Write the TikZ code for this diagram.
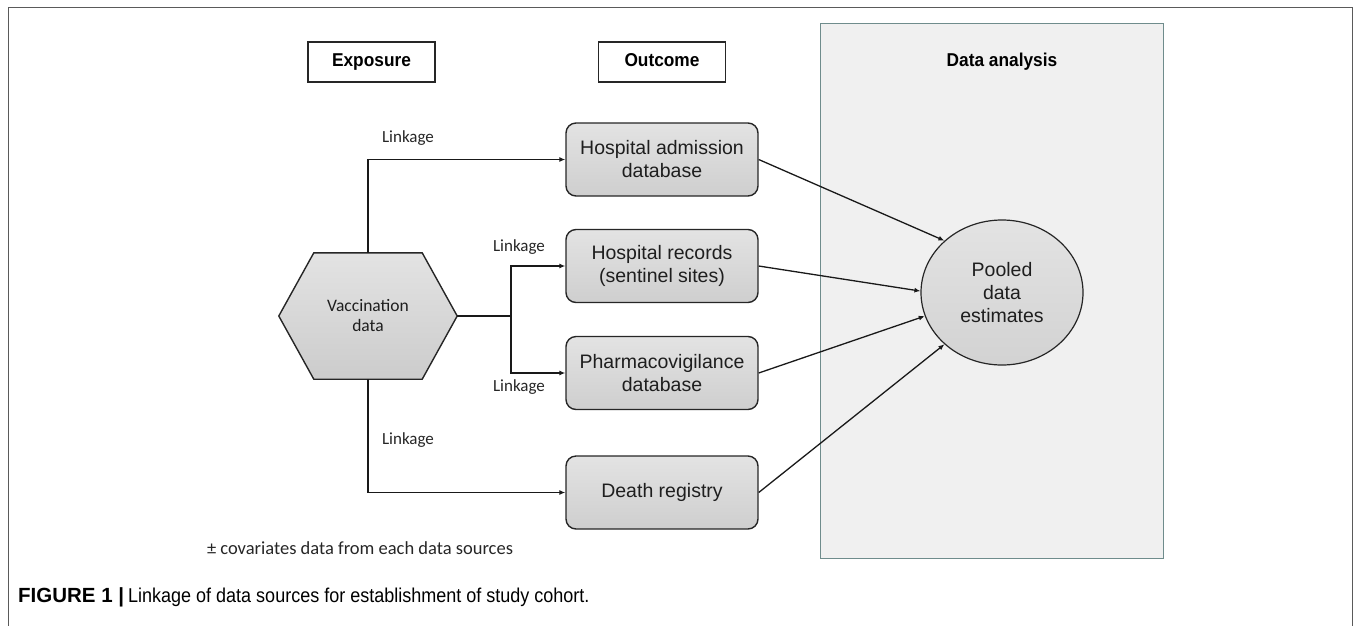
\documentclass[tikz,border=0pt]{standalone}
\usepackage{fontspec}
\usetikzlibrary{arrows.meta,shapes.geometric}
\setmainfont{Liberation Sans}
\newfontfamily\boxfont{Liberation Sans}
\newfontfamily\headfont[FakeStretch=0.93]{Liberation Sans}
\newfontfamily\calfont{Carlito}
\newfontfamily\capfont[FakeStretch=0.9]{Liberation Sans}
\definecolor{framegray}{HTML}{5A5A5A}
\definecolor{panelfill}{HTML}{F0F0F0}
\definecolor{paneldraw}{HTML}{6F8C8C}
\definecolor{txt}{HTML}{1E1E1E}
\tikzset{
  headbox/.style={draw=black!85, line width=1.4pt, fill=white, minimum width=127pt, minimum height=40pt, inner sep=0pt,
    text height=13.5pt, text depth=4pt,
    font=\headfont\bfseries\fontsize{18.6}{22}\selectfont, text=black},
  srcbox/.style={draw=black!85, line width=1.4pt, rounded corners=10pt, top color=gray!22, bottom color=gray!38,
    minimum width=192pt, minimum height=73pt, inner sep=0pt, align=center,
    font=\boxfont\fontsize{19.5}{23}\selectfont, text=txt},
  link/.style={draw=black!90, line width=1.3pt, -{Latex[length=6pt,width=5pt]}},
  plain/.style={draw=black!90, line width=1.3pt},
  lbl/.style={font=\calfont\fontsize{17}{20}\selectfont, text=black!85, inner sep=0pt},
}
\begin{document}
\begin{tikzpicture}[x=1pt,y=-1pt]
\useasboundingbox (0,0) rectangle (1357,625);
% outer frame
\draw[framegray, line width=1pt] (8,640) -- (8,7) -- (1352,7) -- (1352,640);
% data analysis panel
\node[draw=paneldraw, fill=panelfill, line width=1pt, minimum width=343pt, minimum height=535pt, inner sep=0pt] (panel) at (991.5,290.5) {};
\node[font=\headfont\bfseries\fontsize{18.6}{22}\selectfont, text=black, text height=13.5pt, text depth=4pt] (datitle) at (1002,62) {Data analysis};
% header boxes
\node[headbox] (exposure) at (371.5,62) {Exposure};
\node[headbox] (outcome) at (662,62) {Outcome};
% source boxes
\node[srcbox] (ha) at (662,159.5) {Hospital admission\\database};
\node[srcbox] (hr) at (662,266) {Hospital records\\(sentinel sites)};
\node[srcbox] (pv) at (662,373) {Pharmacovigilance\\database};
\node[srcbox] (dr) at (662,492.5) {Death registry};
% vaccination hexagon
\node[minimum width=178pt, minimum height=126pt, inner sep=0pt] (vacc) at (368,316) {};
\draw[draw=black!85, line width=1.4pt, top color=gray!22, bottom color=gray!40]
  (vacc.west) -- ([xshift=35pt]vacc.north west) -- ([xshift=-35pt]vacc.north east) -- (vacc.east)
  -- ([xshift=-35pt]vacc.south east) -- ([xshift=35pt]vacc.south west) -- cycle;
\node[align=center, font=\calfont\fontsize{17.5}{20}\selectfont, text=txt] (vacctext) at (368,316) {Vaccination\\data};
% pooled ellipse
\node[ellipse, draw=black!85, line width=1.2pt, top color=gray!22, bottom color=gray!35,
  minimum width=162pt, minimum height=145pt, inner sep=0pt, align=center,
  font=\boxfont\fontsize{19.5}{23}\selectfont, text=txt] (pool) at (1002,292.5) {Pooled\\data\\estimates};
% connectors
\coordinate (split) at (511,316);
\draw[link] (vacc.north) |- (ha.west);
\draw[plain] (vacc.east) -- (split);
\draw[link] (split) |- (hr.west);
\draw[link] (split) |- (pv.west);
\draw[link] (vacc.south) |- (dr.west);
\draw[link] (ha.east) -- (pool.138);
\draw[link] (hr.east) -- (pool.179);
\draw[link] (pv.east) -- (pool.197);
\draw[link] (dr.east) -- (pool.222);
% linkage labels
\node[lbl] (l1) at (408,138) {Linkage};
\node[lbl] (l2) at (519,247) {Linkage};
\node[lbl] (l3) at (519,387) {Linkage};
\node[lbl] (l4) at (408,440) {Linkage};
\node[font=\calfont\fontsize{18.5}{21}\selectfont, text=black!85, inner sep=0pt] (cov) at (360,548) {± covariates data from each data sources};
% caption
\node[anchor=west, inner sep=0pt, text=black] (caption) at (18,597)
  {\bfseries\fontsize{20.5}{24}\selectfont FIGURE 1 |\hspace{4pt}\capfont\mdseries\fontsize{20}{24}\selectfont Linkage of data sources for establishment of study cohort.};
\end{tikzpicture}
\end{document}
